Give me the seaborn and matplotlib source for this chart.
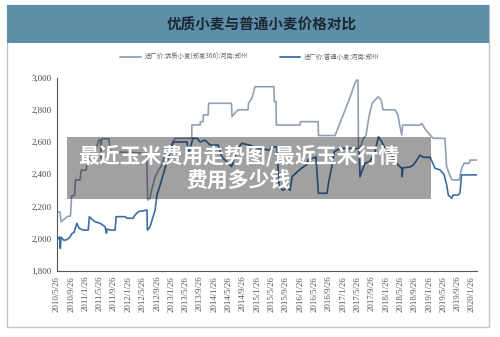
import matplotlib
matplotlib.use("Agg")
import matplotlib.pyplot as plt
from matplotlib.patches import Rectangle
from matplotlib.lines import Line2D
import pandas as pd
import seaborn as sns

# ---------------- data ----------------
title = "优质小麦与普通小麦价格对比"
overlay_text = "最近玉米费用走势图/最近玉米行情\n费用多少钱"
series_names = ["进厂价:优质小麦(郑麦366):河南:郑州", "进厂价:普通小麦:河南:郑州"]

premium_dates = [
    "2010-05-26", "2010-06-23", "2010-07-02", "2010-07-27", "2010-08-31", "2010-09-20",
    "2010-09-30", "2010-10-25", "2010-11-02", "2010-12-11", "2010-12-20", "2011-02-01",
    "2011-02-09", "2011-03-07", "2011-03-22", "2011-04-16", "2011-05-04", "2011-05-21",
    "2011-06-02", "2011-06-06", "2011-06-12", "2011-08-13", "2011-08-23", "2012-06-29",
    "2012-07-08", "2012-07-28", "2012-08-10", "2012-09-09", "2012-10-05", "2012-11-04",
    "2012-12-03", "2013-01-15", "2013-02-27", "2013-07-17", "2013-07-19", "2013-09-27",
    "2013-09-29", "2013-10-22", "2013-10-24", "2013-12-04", "2013-12-08", "2014-06-20",
    "2014-06-25", "2014-07-20", "2014-08-17", "2014-11-08", "2014-11-12", "2014-12-10",
    "2015-01-07", "2015-06-16", "2015-06-20", "2015-07-04", "2015-07-07", "2016-01-24",
    "2016-01-28", "2016-06-26", "2016-06-29", "2016-11-17", "2016-12-30", "2017-02-11",
    "2017-03-26", "2017-04-27", "2017-05-20", "2017-05-31", "2017-06-04", "2017-06-26",
    "2017-07-13", "2017-08-07", "2017-09-02", "2017-09-28", "2017-10-23", "2017-11-20",
    "2017-12-14", "2017-12-30", "2018-04-10", "2018-05-05", "2018-05-23", "2018-06-07",
    "2018-06-14", "2018-11-09", "2018-11-25", "2018-12-23", "2019-02-04", "2019-03-01",
    "2019-06-09", "2019-06-23", "2019-07-14", "2019-08-08", "2019-10-08", "2019-10-29",
    "2019-11-20", "2020-01-01", "2020-01-10", "2020-03-08",
]
premium_values = [
    2165, 2165, 2105, 2120, 2140, 2140,
    2265, 2270, 2365, 2365, 2425, 2425,
    2470, 2510, 2540, 2540, 2580, 2612,
    2612, 2500, 2620, 2620, 2540, 2530,
    2240, 2250, 2302, 2385, 2420, 2457,
    2530, 2571, 2623, 2623, 2706, 2706,
    2726, 2726, 2768, 2768, 2840, 2840,
    2757, 2780, 2800, 2800, 2840, 2871,
    2943, 2943, 2850, 2850, 2705, 2705,
    2726, 2726, 2640, 2640, 2720, 2800,
    2880, 2950, 2984, 2984, 2560, 2580,
    2620, 2640, 2760, 2840, 2860, 2881,
    2860, 2800, 2800, 2768, 2695, 2643,
    2705, 2705, 2716, 2680, 2643, 2623,
    2623, 2450, 2406, 2365, 2365, 2437,
    2468, 2468, 2488, 2488,
]

ordinary_dates = [
    "2010-05-26", "2010-06-06", "2010-06-19", "2010-06-26", "2010-07-02", "2010-07-27",
    "2010-08-22", "2010-09-16", "2010-09-30", "2010-10-21", "2010-10-29", "2010-11-13",
    "2010-12-03", "2011-01-05", "2011-02-18", "2011-02-28", "2011-03-22", "2011-04-16",
    "2011-05-29", "2011-07-11", "2011-07-23", "2011-07-28", "2011-08-23", "2011-10-05",
    "2011-10-13", "2011-12-28", "2012-01-15", "2012-03-05", "2012-03-22", "2012-04-20",
    "2012-07-02", "2012-07-05", "2012-07-14", "2012-07-28", "2012-08-10", "2012-09-09",
    "2012-09-24", "2012-10-22", "2012-11-20", "2012-12-18", "2013-01-15", "2013-02-10",
    "2013-06-08", "2013-06-16", "2013-07-03", "2013-07-28", "2013-09-01", "2013-09-27",
    "2013-11-08", "2013-12-21", "2014-02-27", "2014-03-29", "2014-04-26", "2014-06-22",
    "2014-08-03", "2014-09-16", "2014-11-26", "2015-02-01", "2015-05-14", "2015-05-30",
    "2015-07-12", "2015-07-29", "2015-09-01", "2015-10-06", "2015-10-31", "2015-11-18",
    "2016-01-08", "2016-02-10", "2016-03-23", "2016-04-01", "2016-06-08", "2016-06-28",
    "2016-09-10", "2016-09-22", "2016-10-20", "2016-11-09", "2016-12-30", "2017-06-09",
    "2017-06-17", "2017-07-04", "2017-07-30", "2017-09-10", "2017-10-23", "2017-11-21",
    "2017-12-19", "2018-01-16", "2018-02-28", "2018-05-08", "2018-06-07", "2018-06-09",
    "2018-06-18", "2018-08-17", "2018-09-14", "2018-10-13", "2018-11-09", "2018-12-08",
    "2019-02-04", "2019-03-17", "2019-04-28", "2019-06-01", "2019-06-24", "2019-07-08",
    "2019-08-06", "2019-08-17", "2019-09-29", "2019-10-15", "2019-10-29", "2020-03-08",
]
ordinary_values = [
    2030, 2000, 2010, 1940, 2010, 1990,
    1995, 2010, 2030, 2040, 2060, 2096,
    2065, 2054, 2054, 2137, 2120, 2106,
    2096, 2075, 2035, 2060, 2054, 2054,
    2137, 2137, 2127, 2127, 2147, 2168,
    2178, 2054, 2060, 2075, 2106, 2178,
    2271, 2334, 2406, 2478, 2540, 2600,
    2600, 2530, 2560, 2623, 2623, 2600,
    2612, 2581, 2581, 2509, 2488, 2447,
    2550, 2592, 2580, 2560, 2550, 2570,
    2570, 2330, 2300, 2320, 2300, 2385,
    2420, 2440, 2460, 2490, 2507, 2282,
    2282, 2344, 2447, 2540, 2560, 2560,
    2385, 2420, 2468, 2480, 2540, 2633,
    2602, 2561, 2530, 2457, 2437, 2385,
    2440, 2445, 2457, 2488, 2519, 2505,
    2505, 2437, 2427, 2400, 2334, 2271,
    2251, 2271, 2271, 2282, 2396, 2396,
]

y_ticks = [1800, 2000, 2200, 2400, 2600, 2800, 3000]
x_tick_start = "2010-05-26"
x_tick_end = "2020-01-26"

# ---------------- figure ----------------
sns.set_theme(style="white")
plt.rcParams["font.family"] = ["Noto Sans CJK SC", "DejaVu Sans"]

colors = {series_names[0]: "#929fb3", series_names[1]: "#3a6fa6"}

df = pd.concat([
    pd.DataFrame({"date": pd.to_datetime(premium_dates), "price": premium_values, "series": series_names[0]}),
    pd.DataFrame({"date": pd.to_datetime(ordinary_dates), "price": ordinary_values, "series": series_names[1]}),
], ignore_index=True)

fig = plt.figure(figsize=(5.0, 3.37), dpi=100)
fig.patch.set_facecolor("white")

# outer frame and title bar (behind the axes)
fig.patches.append(Rectangle((7 / 500, 1 - 327 / 337), 482 / 500, 322 / 337, transform=fig.transFigure,
                             facecolor="white", edgecolor="#c4c4c4", linewidth=1.0, zorder=-2))
fig.patches.append(Rectangle((7 / 500, 1 - 43 / 337), 482 / 500, 38 / 337, transform=fig.transFigure,
                             facecolor="#5e8fa9", edgecolor="none", zorder=-1))
fig.text(0.524, 1 - 25 / 337, title, ha="center", va="center", fontsize=10.5,
         fontweight="bold", color="#1c2733")

ax = fig.add_axes([56.7 / 500, 1 - 271 / 337, (477 - 56.7) / 500, (271 - 77.5) / 337])
ax.set_facecolor("none")
ax.set_zorder(1)

sns.lineplot(data=df, x="date", y="price", hue="series", palette=colors, ax=ax,
             legend=False, linewidth=1.2, estimator=None, sort=False)

ax.set_xlim(pd.Timestamp("2010-05-26"), pd.Timestamp("2020-03-08"))
ax.set_ylim(1800, 3000)
ax.set_yticks(y_ticks)
ax.set_yticklabels([f"{v:,}" for v in y_ticks], fontfamily="Liberation Serif", fontsize=6.3, color="#444444")

xt = pd.date_range(x_tick_start, x_tick_end, freq=pd.DateOffset(months=4))
ax.set_xticks(xt)
ax.set_xticklabels([f"{d.year}/{d.month}/{d.day}" for d in xt], rotation=90,
                   fontfamily="Liberation Serif", fontsize=6.3, color="#555555")
ax.set_xlabel("")
ax.set_ylabel("")
for s in ["top", "right"]:
    ax.spines[s].set_visible(False)
for s in ["left", "bottom"]:
    ax.spines[s].set_color("#555555")
    ax.spines[s].set_linewidth(0.8)
ax.tick_params(axis="both", which="major", direction="inout", length=3, width=0.6,
               color="#555555", pad=2)

# legend
handles = [Line2D([], [], color=colors[n], linewidth=1.3) for n in series_names]
fig.legend(handles, series_names, loc="center", bbox_to_anchor=(0.5, 1 - 57 / 337), ncol=2,
           frameon=False, fontsize=4.6, handlelength=3.2, columnspacing=5.0, handletextpad=0.6,
           labelcolor="#666666")

# watermark overlay box (above the axes)
fig.patches.append(Rectangle((67 / 500, 1 - 199.5 / 337), 364 / 500, 62 / 337, transform=fig.transFigure,
                             facecolor="#000000", alpha=0.37, edgecolor="none", zorder=10))
fig.text(239 / 500, 1 - 167.5 / 337, overlay_text, ha="center", va="center", fontsize=15,
         fontweight="heavy", color="white", linespacing=1.2, zorder=11)

fig.savefig("out.png", dpi=100)
